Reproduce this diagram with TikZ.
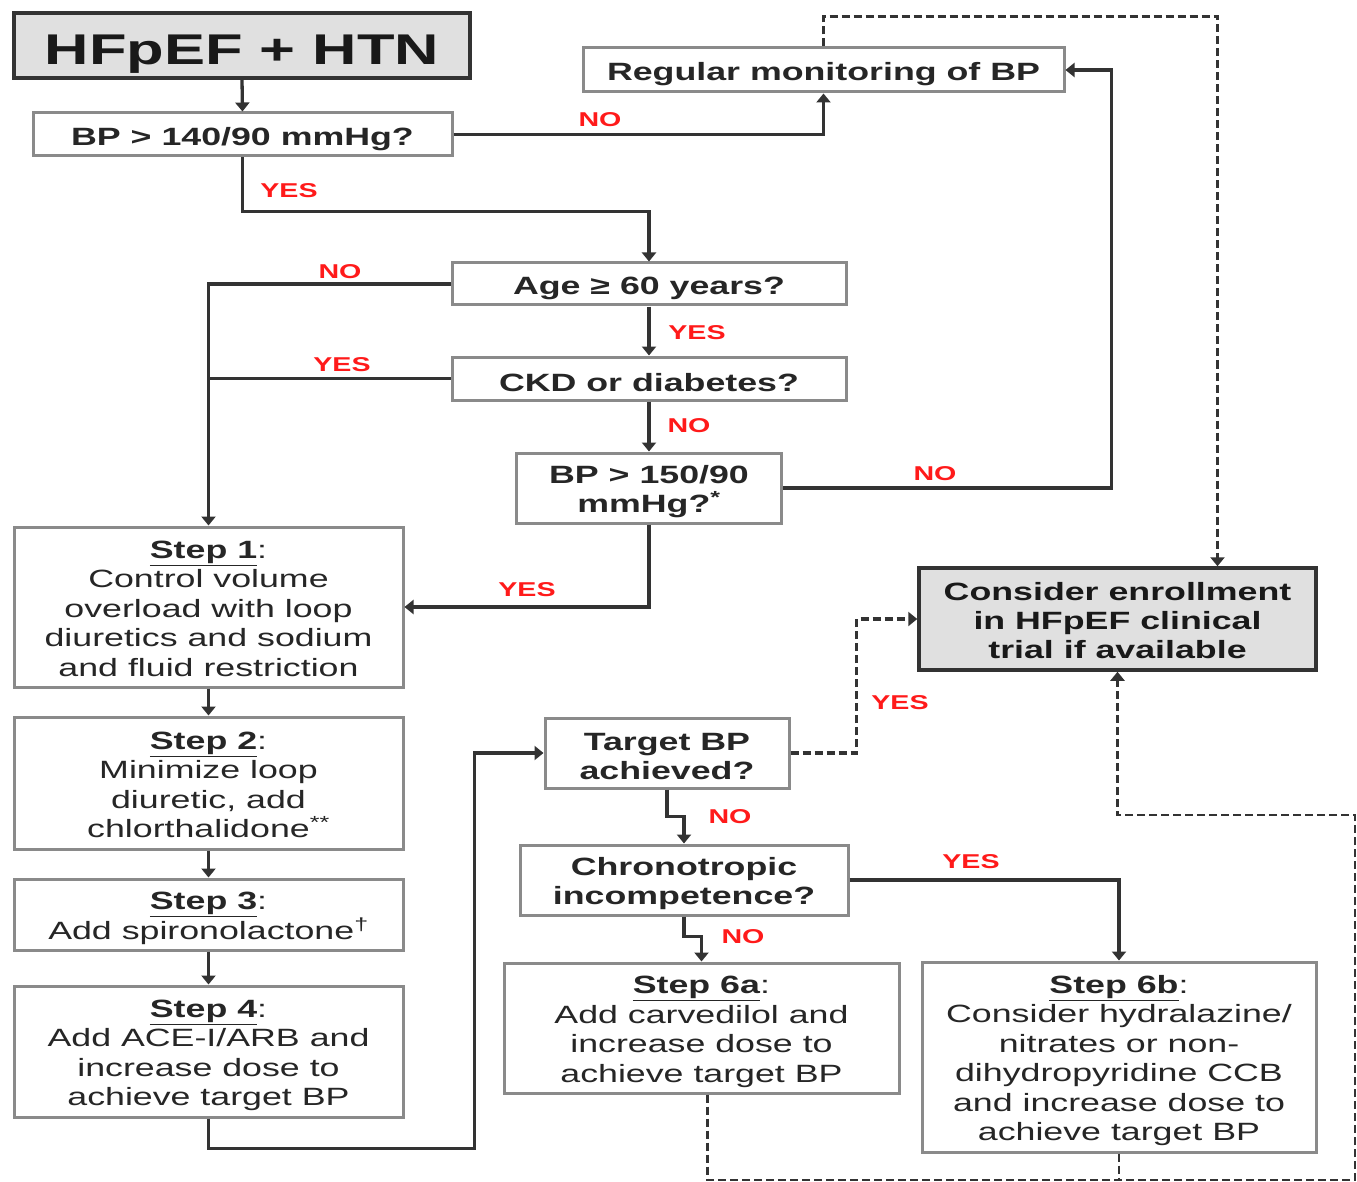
\documentclass[tikz,border=0pt]{standalone}
\usepackage{fontspec}
\setmainfont[FakeStretch=1.43]{Liberation Sans}
\usetikzlibrary{arrows.meta}
\definecolor{bordergray}{HTML}{8A8A8A}
\definecolor{linec}{HTML}{333333}
\definecolor{fillg}{HTML}{E0E0E0}
\definecolor{lbl}{HTML}{FF1A1A}
\newcommand{\fsA}{\rule{0pt}{25pt}}
\newcommand{\fsB}{\rule{0pt}{21pt}}
\begin{document}
\begin{tikzpicture}[x=1pt,y=-1pt,
 box/.style={draw=bordergray, line width=3pt, rectangle, inner sep=0pt, align=center, text=black!85, fill=white, execute at begin node={\rule{0pt}{27pt}}},
 qfont/.style={font=\fontsize{25}{29}\selectfont\bfseries},
 sfont/.style={font=\fontsize{25}{29.5}\selectfont},
 key/.style={draw=black!80, line width=3.5pt, fill=fillg, rectangle, inner sep=0pt, align=center, text=black!90},
 conn/.style={draw=linec, line width=3.3pt},
 arr/.style={-{Triangle[length=9pt,width=14pt]}},
 dsh/.style={dash pattern=on 8pt off 4pt},
 lab/.style={text=lbl, font=\fontsize{20}{22}\selectfont\bfseries}
]
\fill[white] (0,0) rectangle (1357,1182);
\useasboundingbox (0,0) rectangle (1357,1182);

% nodes
\node[key, minimum width=456pt, minimum height=65pt, font=\fontsize{43}{48}\selectfont\bfseries] (title) at (242,45.5) {\rule{0pt}{46pt}HFpEF + HTN};
\node[box, qfont, minimum width=419pt, minimum height=43pt] (bp140) at (242.5,134.5) {BP > 140/90 mmHg?};
\node[box, qfont, minimum width=481pt, minimum height=44pt] (reg) at (823.5,70) {Regular monitoring of BP};
\node[box, qfont, minimum width=394pt, minimum height=42pt] (age) at (649,284) {Age ≥ 60 years?};
\node[box, qfont, minimum width=394pt, minimum height=43pt] (ckd) at (649,378.5) {CKD or diabetes?};
\node[box, qfont, minimum width=265pt, minimum height=70pt] (bp150) at (649,488) {\fsA BP > 150/90\\mmHg?\textsuperscript{*}};
\node[box, sfont, minimum width=389pt, minimum height=160pt] (s1) at (208.5,607) {\fsB\underline{\textbf{Step 1}}:\\Control volume\\overload with loop\\diuretics and sodium\\and fluid restriction};
\node[box, sfont, minimum width=389pt, minimum height=132pt] (s2) at (208.5,783) {\fsB\underline{\textbf{Step 2}}:\\Minimize loop\\diuretic, add\\chlorthalidone\textsuperscript{**}};
\node[box, sfont, minimum width=389pt, minimum height=71pt] (s3) at (208.5,914.5) {\fsA\underline{\textbf{Step 3}}:\\Add spironolactone\textsuperscript{†}};
\node[box, sfont, minimum width=389pt, minimum height=131pt] (s4) at (208.5,1051.5) {\fsA\underline{\textbf{Step 4}}:\\Add ACE-I/ARB and\\increase dose to\\achieve target BP};
\node[key, qfont, minimum width=397pt, minimum height=102pt] (trial) at (1117.5,619) {\rule{0pt}{22pt}Consider enrollment\\in HFpEF clinical\\trial if available};
\node[box, qfont, minimum width=244pt, minimum height=70pt] (target) at (667,753) {\fsA Target BP\\achieved?};
\node[box, qfont, minimum width=328pt, minimum height=70pt] (chrono) at (684,880) {\fsA Chronotropic\\incompetence?};
\node[box, sfont, minimum width=395pt, minimum height=130pt] (s6a) at (701.5,1028) {\fsA\underline{\textbf{Step 6a}}:\\Add carvedilol and\\increase dose to\\achieve target BP};
\node[box, sfont, minimum width=394pt, minimum height=190pt] (s6b) at (1119,1057) {\fsA\underline{\textbf{Step 6b}}:\\Consider hydralazine/\\nitrates or non-\\dihydropyridine CCB\\and increase dose to\\achieve target BP};

\coordinate (br) at (1355,1180);
\coordinate (mid) at (1117.5,815);

% solid connectors
\draw[conn,arr] (title.south) -- (bp140.north);
\draw[conn,arr] (bp140.east) -| (reg.south);
\draw[conn,arr] (bp140.south) -- ++(0,54) -| (age.north);
\draw[conn,arr] (age.west) -| (s1.north);
\draw[conn] (ckd.west) -- (s1.north |- ckd.west);
\draw[conn,arr] (age.south) -- (ckd.north);
\draw[conn,arr] (ckd.south) -- (bp150.north);
\draw[conn,arr] (bp150.east) -- ++(328.5,0) |- (reg.east);
\draw[conn,arr] (bp150.south) |- (s1.east);
\draw[conn,arr] (s1.south) -- (s2.north);
\draw[conn,arr] (s2.south) -- (s3.north);
\draw[conn,arr] (s3.south) -- (s4.north);
\draw[conn,arr] (s4.south) -- ++(0,30) -- ++(266,0) |- (target.west);
\draw[conn,arr] (target.south) -- ++(0,27) -| (chrono.north);
\draw[conn,arr] (chrono.south) -- ++(0,20) -| (s6a.north);
\draw[conn,arr] (chrono.east) -| (s6b.north);

% dashed connectors
\draw[conn,dsh,arr] (target.east) -- ++(66,0) |- (trial.west);
\draw[conn,dsh,arr] (reg.north) -- ++(0,-30) -| ([xshift=100pt]trial.north);
\draw[draw=linec,line width=2.4pt,dsh,arr] ([xshift=6pt]s6a.south) |- (br) -- (br |- mid) -- (mid) -- (trial.south);
\draw[draw=linec,line width=2.4pt,dsh] (s6b.south) -- (s6b.south |- br);

% labels
\node[lab] (l1) at (600,120) {NO};
\node[lab] (l2) at (289,191) {YES};
\node[lab] (l3) at (340,272) {NO};
\node[lab] (l4) at (342,365) {YES};
\node[lab] (l5) at (697,333) {YES};
\node[lab] (l6) at (689,426) {NO};
\node[lab] (l7) at (935,474) {NO};
\node[lab] (l8) at (527,590) {YES};
\node[lab] (l9) at (900,703) {YES};
\node[lab] (l10) at (730,817) {NO};
\node[lab] (l11) at (743,937) {NO};
\node[lab] (l12) at (971,862) {YES};
\end{tikzpicture}
\end{document}
